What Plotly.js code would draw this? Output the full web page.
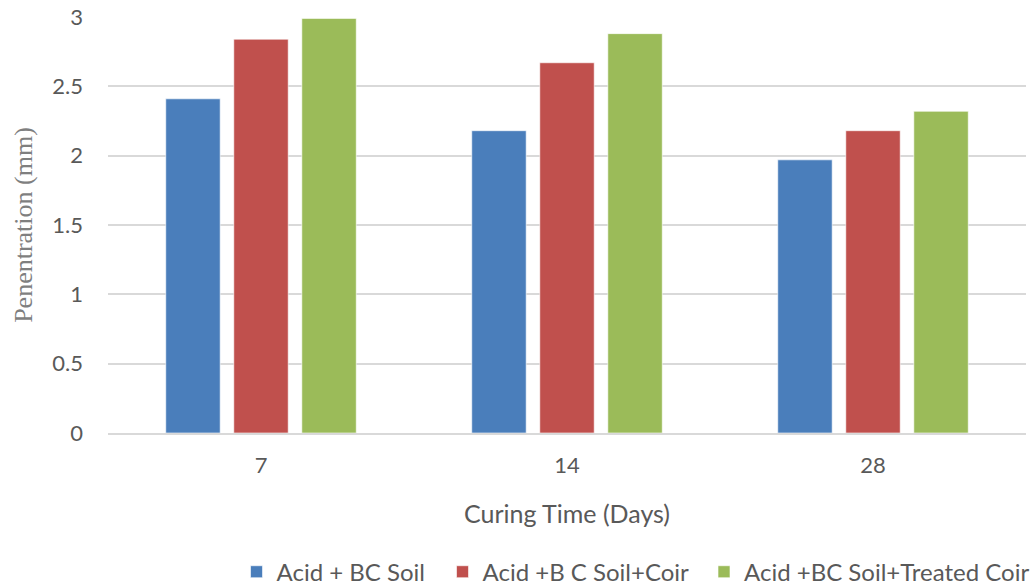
<!DOCTYPE html>
<html>
<head>
<meta charset="utf-8">
<script src="https://cdn.plot.ly/plotly-3.0.1.min.js"></script>
<style>html,body{margin:0;padding:0;background:#fff;}#chart{width:1035px;height:585px;}</style>
</head>
<body>
<div id="chart"></div>
<script>
const categories = ["7", "14", "28"];
const seriesNames = ["Acid + BC Soil", "Acid +B C Soil+Coir", "Acid +BC Soil+Treated Coir"];
const acidBC = [2.41, 2.18, 1.97];
const acidBCCoir = [2.84, 2.67, 2.18];
const acidBCTreatedCoir = [2.99, 2.88, 2.32];
const yTicks = [0, 0.5, 1, 1.5, 2, 2.5, 3];
const colors = ["#4A7EBB", "#C0504D", "#9BBB59"];

const font = "Lato, 'Open Sans', sans-serif";
const legendNames = ["legend", "legend2", "legend3"];
const legendX = [0.140, 0.3644, 0.6498];

const allValues = [acidBC, acidBCCoir, acidBCTreatedCoir];
const traces = allValues.map((vals, i) => ({
  type: "bar",
  x: categories,
  y: vals,
  name: seriesNames[i],
  legend: legendNames[i],
  marker: {color: colors[i], line: {color: "rgba(255,255,255,0.6)", width: 1}},
  hoverinfo: "x+y+name"
}));

const layout = {
  width: 1035, height: 585,
  margin: {l: 108, r: 9, t: 17, b: 152},
  paper_bgcolor: "#fff", plot_bgcolor: "#fff",
  barmode: "group", bargap: 0.333, bargroupgap: 0.2,
  font: {family: font, color: "#595959", size: 22},
  xaxis: {
    type: "category", automargin: false,
    showgrid: false,
    showline: true, linecolor: "#d9d9d9", linewidth: 2,
    ticks: "", ticklabelstandoff: 12,
    tickfont: {family: font, size: 22, color: "#595959"},
    title: {text: "Curing Time (Days)", font: {family: font, size: 25, color: "#595959"}, standoff: 28}
  },
  yaxis: {
    automargin: false,
    range: [0, 3], tickvals: yTicks, ticktext: yTicks.map(String),
    showgrid: true, gridcolor: "#d9d9d9", gridwidth: 2,
    zeroline: false, showline: false,
    ticks: "", ticklabelstandoff: 24,
    tickfont: {family: font, size: 22, color: "#595959"},
    title: {text: "Penentration (mm)", font: {family: "'Liberation Serif', 'DejaVu Serif', serif", size: 26, color: "#7f7f7f"}, standoff: 12}
  },
  showlegend: true
};
legendNames.forEach((ln, i) => {
  layout[ln] = {
    orientation: "h", x: legendX[i], xanchor: "left",
    xref: "paper", yref: "container", y: 0.022, yanchor: "middle",
    font: {family: font, size: 24, color: "#595959"},
    itemwidth: 30, bgcolor: "rgba(0,0,0,0)"
  };
});

Plotly.newPlot("chart", traces, layout, {displayModeBar: false, staticPlot: true});
</script>
</body>
</html>
